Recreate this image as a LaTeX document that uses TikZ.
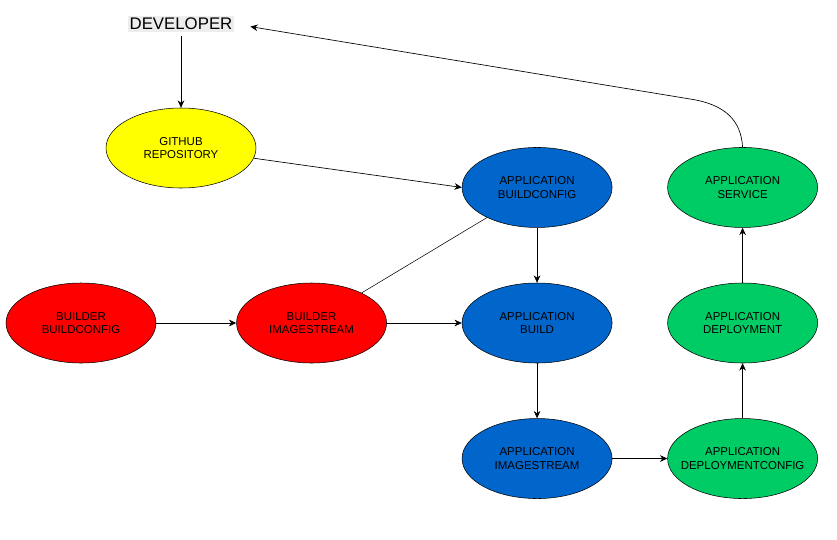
\documentclass[tikz,border=0pt]{standalone}
\usepackage{fontspec}
\setmainfont{Liberation Sans}
\usetikzlibrary{positioning, arrows.meta, shapes.geometric}
\definecolor{gitYellow}{HTML}{FFFF00}
\definecolor{appBlue}{HTML}{0066CC}
\definecolor{builderRed}{HTML}{FF0000}
\definecolor{deployGreen}{HTML}{00CC66}
\tikzset{
    oval yellow/.style={ellipse, draw=black, fill=gitYellow, minimum width=112.5pt, minimum height=60pt, inner sep=0pt, align=center, font=\fontsize{8.6}{10}\selectfont},
    oval blue/.style={ellipse, draw=black, fill=appBlue, minimum width=112.5pt, minimum height=60pt, inner sep=0pt, align=center, font=\fontsize{8.6}{10}\selectfont},
    oval red/.style={ellipse, draw=black, fill=builderRed, minimum width=112.5pt, minimum height=60pt, inner sep=0pt, align=center, font=\fontsize{8.6}{10}\selectfont},
    oval green/.style={ellipse, draw=black, fill=deployGreen, minimum width=112.5pt, minimum height=60pt, inner sep=0pt, align=center, font=\fontsize{8.6}{10}\selectfont},
    flow/.style={-{Stealth[length=5.5pt, width=5pt]}, draw=black, line width=0.5pt},
    link/.style={draw=black, line width=0.4pt},
}

\begin{document}
\begin{tikzpicture}[x=0.75pt, y=-0.75pt]
\useasboundingbox (0,0) rectangle (837,539);
\node[fill=black!7, inner sep=1.5pt, font=\fontsize{12.6}{14}\selectfont] (dev) at (181,24) {DEVELOPER};
\node[oval yellow] (gh) at (181,148) {GITHUB\\REPOSITORY};
\node[oval red] (bbc) at (81,323) {BUILDER\\BUILDCONFIG};
\node[oval red, right=60pt of bbc] (bimg) {BUILDER\\IMAGESTREAM};
\node[oval blue, right=56.25pt of bimg] (abuild) {APPLICATION\\BUILD};
\node[oval blue, above=41.25pt of abuild] (abc) {APPLICATION\\BUILDCONFIG};
\node[oval blue, below=41.25pt of abuild] (aimg) {APPLICATION\\IMAGESTREAM};
\node[oval green, inner xsep=-9pt, right=41.25pt of aimg] (adc) {APPLICATION\\DEPLOYMENTCONFIG};
\node[oval green, above=41.25pt of adc] (adep) {APPLICATION\\DEPLOYMENT};
\node[oval green, above=41.25pt of adep] (asvc) {APPLICATION\\SERVICE};
\coordinate (bend) at (690,99);
\draw[flow, shorten <=3pt] (dev) -- (gh);
\draw[flow] (gh) -- (abc.west);
\draw[link] (bimg) -- (abc);
\draw[flow] (abc) -- (abuild);
\draw[flow] (bbc) -- (bimg);
\draw[flow] (bimg) -- (abuild);
\draw[flow] (abuild) -- (aimg);
\draw[flow] (aimg) -- (adc);
\draw[flow] (adc) -- (adep);
\draw[flow] (adep) -- (asvc);
\draw[flow, shorten >=12pt] (asvc.north) .. controls (741,120) and (724.6,104.2) .. (bend) -- (dev.east);
\end{tikzpicture}
\end{document}
